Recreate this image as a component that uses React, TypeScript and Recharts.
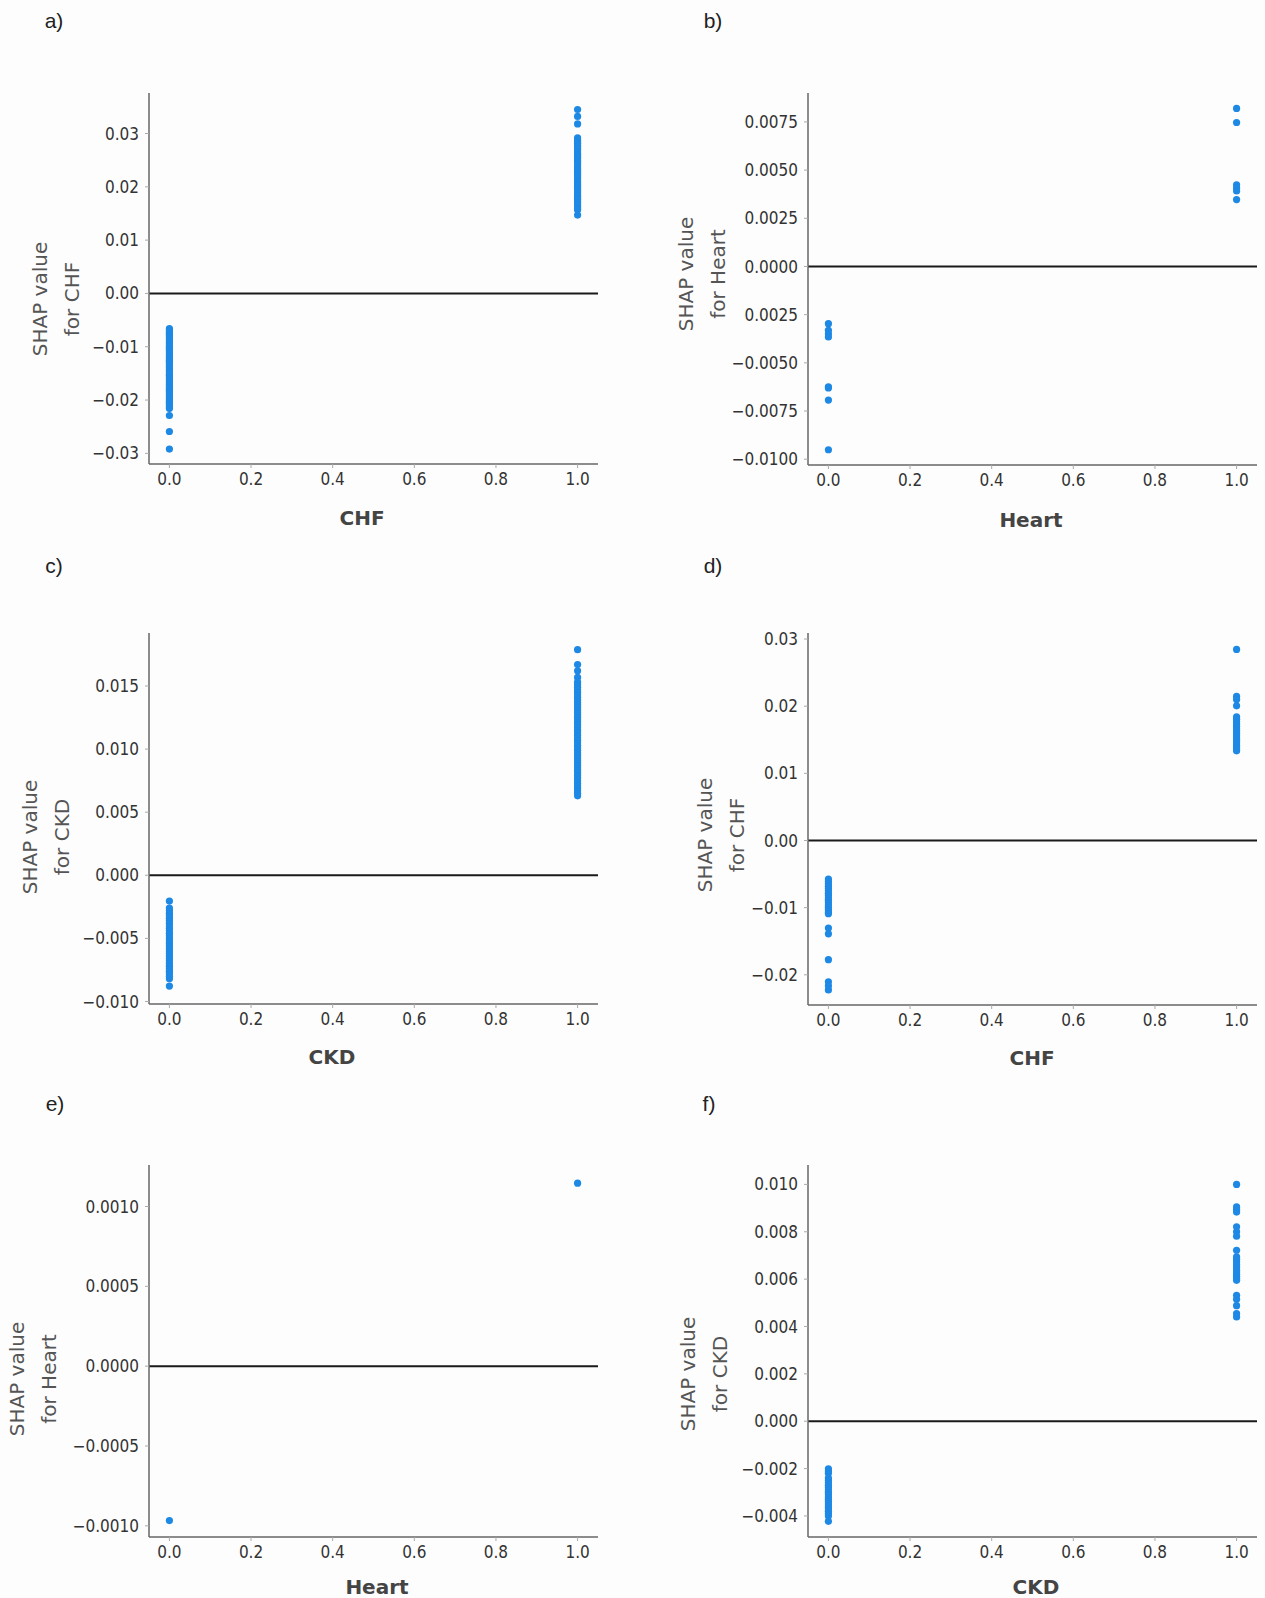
import { ScatterChart, Scatter, XAxis, YAxis, ReferenceLine } from "recharts";

// shared x axis (binary feature)
const xTicks = [0, 0.2, 0.4, 0.6, 0.8, 1.0];
const xTickLabels = ["0.0", "0.2", "0.4", "0.6", "0.8", "1.0"];

// a) CHF
const aTicks = [-0.03, -0.02, -0.01, 0, 0.01, 0.02, 0.03];
const aTickLabels = ["\u22120.03", "\u22120.02", "\u22120.01", "0.00", "0.01", "0.02", "0.03"];
const aAt0 = [
  -0.0066, -0.00695, -0.0073, -0.00765, -0.008, -0.00835, -0.0087, -0.00905, -0.0094, -0.00975, -0.0101, -0.01045,
  -0.0108, -0.01115, -0.0115, -0.01185, -0.0122, -0.01255, -0.0129, -0.01325, -0.0136, -0.01395, -0.0143, -0.01465,
  -0.015, -0.01535, -0.0157, -0.01605, -0.0164, -0.01675, -0.0171, -0.01745, -0.0178, -0.01815, -0.0185, -0.01885,
  -0.0192, -0.01955, -0.0199, -0.02025, -0.0206, -0.02095, -0.0213, -0.0216, -0.0229, -0.0259, -0.0292,
];
const aAt1 = [
  0.0345, 0.0332, 0.0318, 0.0292, 0.02885, 0.0285, 0.02815, 0.0278, 0.02745, 0.0271, 0.02675, 0.0264, 0.02605,
  0.0257, 0.02535, 0.025, 0.02465, 0.0243, 0.02395, 0.0236, 0.02325, 0.0229, 0.02255, 0.0222, 0.02185, 0.0215,
  0.02115, 0.0208, 0.02045, 0.0201, 0.01975, 0.0194, 0.01905, 0.0187, 0.01835, 0.018, 0.01765, 0.0173, 0.01695,
  0.0166, 0.0162, 0.0159, 0.0157, 0.0147,
];

// b) Heart
const bTicks = [-0.01, -0.0075, -0.005, -0.0025, 0, 0.0025, 0.005, 0.0075];
const bTickLabels = ["\u22120.0100", "\u22120.0075", "\u22120.0050", "0.0025", "0.0000", "0.0025", "0.0050", "0.0075"];
const bAt0 = [-0.00297, -0.00331, -0.00349, -0.00366, -0.00624, -0.0063, -0.00693, -0.00951];
const bAt1 = [0.0082, 0.00747, 0.00424, 0.00407, 0.00392, 0.00347];

// c) CKD
const cTicks = [-0.01, -0.005, 0, 0.005, 0.01, 0.015];
const cTickLabels = ["\u22120.010", "\u22120.005", "0.000", "0.005", "0.010", "0.015"];
const cAt0 = [
  -0.00204, -0.0026, -0.0028, -0.003, -0.0032, -0.0034, -0.0036, -0.0038, -0.004, -0.0042, -0.0044, -0.0046,
  -0.0048, -0.005, -0.0052, -0.0054, -0.0056, -0.0058, -0.006, -0.0062, -0.0064, -0.0066, -0.0068, -0.007, -0.0072,
  -0.0074, -0.0076, -0.0078, -0.008, -0.0082, -0.00878,
];
const cAt1 = [
  0.01788, 0.0167, 0.0162, 0.01568, 0.0153, 0.0151, 0.0149, 0.0147, 0.0145, 0.0143, 0.0141, 0.0139, 0.0137,
  0.0135, 0.0133, 0.0131, 0.0129, 0.0127, 0.0125, 0.0123, 0.0121, 0.0119, 0.0117, 0.0115, 0.0113, 0.0111, 0.0109,
  0.0107, 0.0105, 0.0103, 0.0101, 0.0099, 0.0097, 0.0095, 0.0093, 0.0091, 0.0089, 0.0087, 0.0085, 0.0083, 0.0081,
  0.0079, 0.0077, 0.0075, 0.0073, 0.0071, 0.0069, 0.0067, 0.0065, 0.0063,
];

// d) CHF
const dTicks = [-0.02, -0.01, 0, 0.01, 0.02, 0.03];
const dTickLabels = ["\u22120.02", "\u22120.01", "0.00", "0.01", "0.02", "0.03"];
const dAt0 = [
  -0.00575, -0.0061, -0.00645, -0.0068, -0.00715, -0.0075, -0.00785, -0.0082, -0.00855, -0.0089, -0.00925, -0.0096,
  -0.00995, -0.0103, -0.01065, -0.0109, -0.01305, -0.0139, -0.01775, -0.02105, -0.02165, -0.02225,
];
const dAt1 = [
  0.02845, 0.02145, 0.021, 0.02005, 0.0184, 0.01805, 0.0177, 0.01735, 0.017, 0.01665, 0.0163, 0.01595, 0.0156,
  0.01525, 0.0149, 0.01455, 0.0142, 0.01385, 0.0135, 0.01335,
];

// e) Heart
const eTicks = [-0.001, -0.0005, 0, 0.0005, 0.001];
const eTickLabels = ["\u22120.0010", "\u22120.0005", "0.0000", "0.0005", "0.0010"];
const eAt0 = [-0.000967];
const eAt1 = [0.001146];

// f) CKD
const fTicks = [-0.004, -0.002, 0, 0.002, 0.004, 0.006, 0.008, 0.01];
const fTickLabels = ["\u22120.004", "\u22120.002", "0.000", "0.002", "0.004", "0.006", "0.008", "0.010"];
const fAt0 = [
  -0.00201, -0.0021, -0.0022, -0.0024, -0.0025, -0.0026, -0.0027, -0.0028, -0.0029, -0.003, -0.0031, -0.0032,
  -0.0033, -0.0034, -0.0035, -0.0036, -0.0037, -0.0038, -0.0039, -0.004, -0.00423,
];
const fAt1 = [
  0.01, 0.00905, 0.00894, 0.00883, 0.00821, 0.008, 0.00781, 0.00722, 0.00694, 0.00684, 0.00673, 0.00662, 0.00651,
  0.0064, 0.0063, 0.00621, 0.00612, 0.00603, 0.00595, 0.00532, 0.00515, 0.00488, 0.00454, 0.0044,
];

const BLUE = "#1E88E5";
const TICK_FONT = "'DejaVu Sans Condensed', 'DejaVu Sans', sans-serif";
const LABEL_FONT = "'DejaVu Sans', sans-serif";
const W_Y = 100;
const H_X = 40;
const PAD = 10;
const PLOT_W = 449;

const panels = [
  { letter: "a)", feature: "CHF", at0: aAt0, at1: aAt1, ticks: aTicks, labels: aTickLabels, domain: [-0.032, 0.0376],
    left: 149, top: 93, h: 371, lx: 54, ly: 21, yx: 56, yy: 299, xx: 362, xy: 518 },
  { letter: "b)", feature: "Heart", at0: bAt0, at1: bAt1, ticks: bTicks, labels: bTickLabels, domain: [-0.0103, 0.009],
    left: 808, top: 93, h: 372, lx: 713, ly: 21, yx: 702, yy: 274, xx: 1031, xy: 520 },
  { letter: "c)", feature: "CKD", at0: cAt0, at1: cAt1, ticks: cTicks, labels: cTickLabels, domain: [-0.0102, 0.0192],
    left: 149, top: 633, h: 371, lx: 54, ly: 566, yx: 46, yy: 837, xx: 332, xy: 1057 },
  { letter: "d)", feature: "CHF", at0: dAt0, at1: dAt1, ticks: dTicks, labels: dTickLabels, domain: [-0.0245, 0.0309],
    left: 808, top: 633, h: 372, lx: 713, ly: 566, yx: 721, yy: 835, xx: 1032, xy: 1058 },
  { letter: "e)", feature: "Heart", at0: eAt0, at1: eAt1, ticks: eTicks, labels: eTickLabels, domain: [-0.00107, 0.00126],
    left: 149, top: 1165, h: 372, lx: 55, ly: 1104, yx: 33, yy: 1379, xx: 377, xy: 1587 },
  { letter: "f)", feature: "CKD", at0: fAt0, at1: fAt1, ticks: fTicks, labels: fTickLabels, domain: [-0.00489, 0.01082],
    left: 808, top: 1165, h: 372, lx: 709, ly: 1104, yx: 704, yy: 1374, xx: 1036, xy: 1587 },
];

const dot = (props: any) => <circle cx={props.cx} cy={props.cy} r={3.6} fill={BLUE} />;

function Panel({ p }: { p: any }) {
  const data = [...p.at0.map((y: number) => ({ x: 0, y })), ...p.at1.map((y: number) => ({ x: 1, y }))];
  return (
    <>
      <div style={{ position: "absolute", left: p.left - W_Y, top: p.top - PAD }}>
        <ScatterChart
          width={W_Y + PLOT_W + PAD}
          height={p.h + H_X + PAD}
          margin={{ top: PAD, right: PAD, bottom: 0, left: 0 }}
          style={{ overflow: "visible" }}
        >
          <XAxis
            type="number"
            dataKey="x"
            domain={[-0.05, 1.05]}
            ticks={xTicks}
            interval={0}
            allowDataOverflow
            height={H_X}
            tickFormatter={(v: number) => xTickLabels[xTicks.indexOf(v)]}
            axisLine={{ stroke: "#666", strokeWidth: 1.5 }}
            tickLine={{ stroke: "#aaa" }}
            tickSize={4}
            tickMargin={5}
            tick={{ fill: "#333", fontSize: 17, fontFamily: TICK_FONT }}
          />
          <YAxis
            type="number"
            dataKey="y"
            domain={p.domain}
            ticks={p.ticks}
            interval={0}
            allowDataOverflow
            width={W_Y}
            tickFormatter={(v: number) => p.labels[p.ticks.indexOf(v)]}
            axisLine={{ stroke: "#666", strokeWidth: 1.5 }}
            tickLine={{ stroke: "#aaa" }}
            tickSize={4}
            tickMargin={6}
            tick={{ fill: "#333", fontSize: 17, fontFamily: TICK_FONT }}
          />
          <ReferenceLine y={0} stroke="#1a1a1a" strokeWidth={2} />
          <Scatter data={data} fill={BLUE} shape={dot} isAnimationActive={false} />
        </ScatterChart>
      </div>
      <div style={{ position: "absolute", left: p.lx, top: p.ly, transform: "translate(-50%,-50%)", fontFamily: "'Liberation Sans', Arial, sans-serif", fontSize: 21, color: "#222" }}>
        {p.letter}
      </div>
      <div
        style={{
          position: "absolute", left: p.yx, top: p.yy, transform: "translate(-50%,-50%) rotate(-90deg)",
          fontFamily: LABEL_FONT, fontSize: 20, color: "#555", lineHeight: "32px", textAlign: "center", whiteSpace: "nowrap",
        }}
      >
        SHAP value
        <br />
        for {p.feature}
      </div>
      <div style={{ position: "absolute", left: p.xx, top: p.xy, transform: "translate(-50%,-50%)", fontFamily: LABEL_FONT, fontWeight: 700, fontSize: 20, color: "#444", whiteSpace: "nowrap" }}>
        {p.feature}
      </div>
    </>
  );
}

export default function App() {
  return (
    <div style={{ position: "absolute", left: 0, top: 0, width: 1265, height: 1598, background: "#fdfdfd", overflow: "hidden" }}>
      {panels.map((p) => (
        <Panel key={p.letter} p={p} />
      ))}
    </div>
  );
}
